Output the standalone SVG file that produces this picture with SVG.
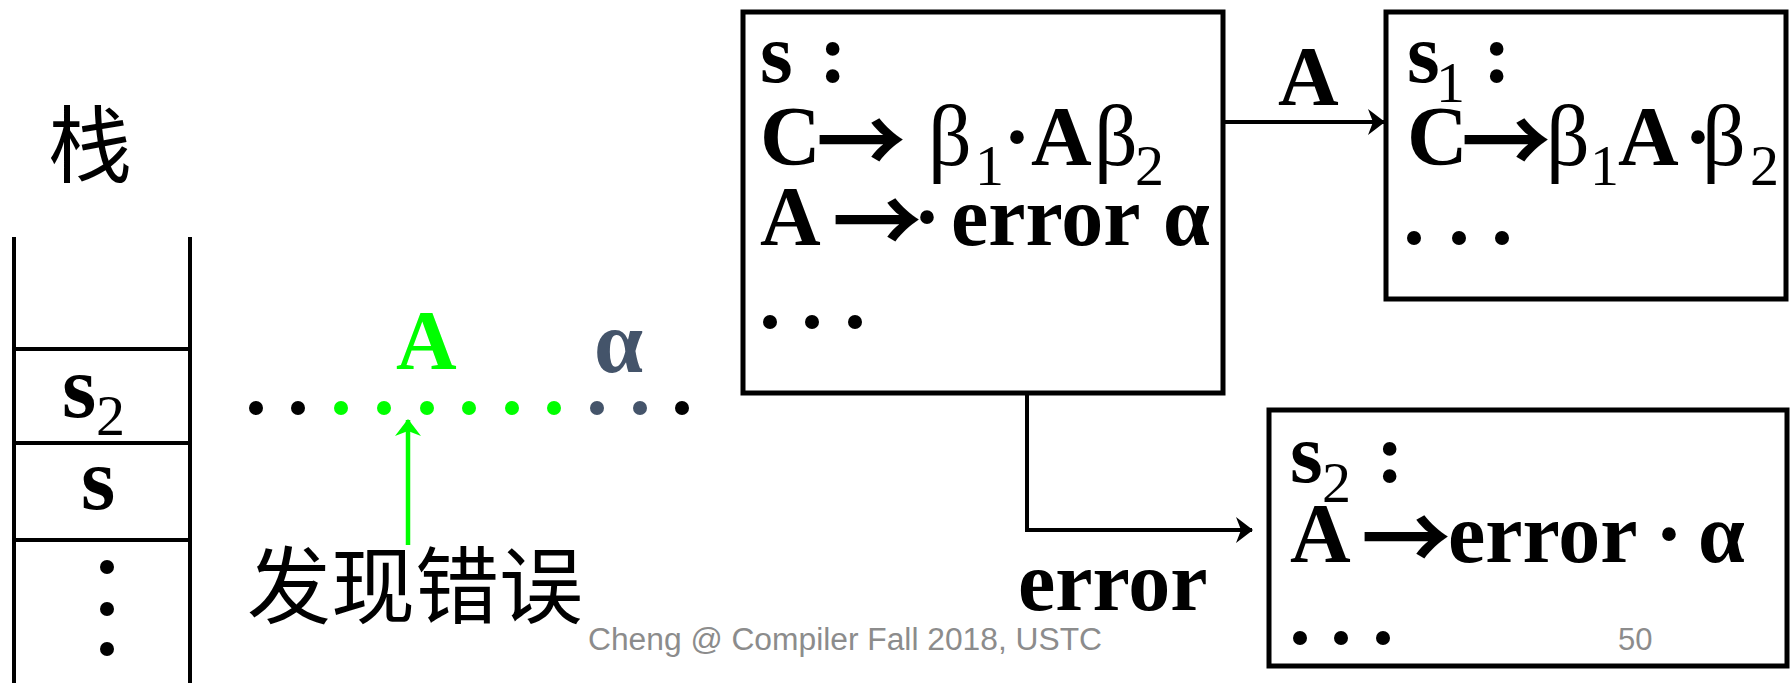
<svg xmlns="http://www.w3.org/2000/svg" width="1791" height="683" viewBox="0 0 1791 683">
<defs>
<style>
.t{font-family:"Liberation Serif","Times New Roman",serif;font-weight:bold;font-size:84px;fill:#000}
.g{font-family:"Liberation Serif","Times New Roman",serif;font-weight:normal;font-size:86px}
.sub{font-family:"Liberation Serif","Times New Roman",serif;font-weight:normal;font-size:58px}
.ar{font-family:"Noto Sans CJK SC","Noto Sans CJK JP",sans-serif;font-weight:bold;font-size:90px}
.cjk{font-family:"Noto Sans CJK SC","Noto Sans CJK JP",sans-serif;font-size:84px;fill:#000}
.box{fill:#fff;stroke:#000;stroke-width:5}
.ln{stroke:#000;stroke-width:4;fill:none}
.ft{font-family:"Liberation Sans",Arial,sans-serif;font-size:31px;fill:#8c8c8c}
</style>
<marker id="ah" markerUnits="userSpaceOnUse" markerWidth="17" markerHeight="26" refX="16" refY="13" orient="auto">
<path d="M0,0 L17,13 L0,26 L5,13 Z" fill="#000"/>
</marker>
<marker id="ahg" markerUnits="userSpaceOnUse" markerWidth="17" markerHeight="26" refX="16" refY="13" orient="auto">
<path d="M0,0 L17,13 L0,26 L5,13 Z" fill="#00ff00"/>
</marker>
</defs>
<rect width="1791" height="683" fill="#fff"/>

<g id="stack">
<text class="cjk" x="48" y="176">栈</text>
<path class="ln" d="M14,237 V683 M190,237 V683 M14,349 H190 M14,443 H190 M14,540 H190"/>
<text class="t" x="62" y="417" style="font-size:88px">s<tspan class="sub" x="96" y="435">2</tspan></text>
<text class="t" x="81" y="509" style="font-size:88px">s</text>
<circle cx="107" cy="567" r="7"/>
<circle cx="107" cy="609" r="7"/>
<circle cx="107" cy="649" r="7"/>
</g>

<g id="input">
<g fill="#000">
<circle cx="256" cy="408" r="7"/>
<circle cx="298" cy="408" r="7"/>
<circle cx="682" cy="408" r="7"/>
</g>
<g fill="#00ff00">
<circle cx="341" cy="408" r="7"/>
<circle cx="384" cy="408" r="7"/>
<circle cx="427" cy="408" r="7"/>
<circle cx="469" cy="408" r="7"/>
<circle cx="512" cy="408" r="7"/>
<circle cx="554" cy="408" r="7"/>
</g>
<g fill="#44546a">
<circle cx="597" cy="408" r="7"/>
<circle cx="640" cy="408" r="7"/>
</g>
<text class="t" x="396" y="369" style="fill:#00ff00">A</text>
<text class="t" x="594" y="372" style="fill:#44546a;font-size:88px">α</text>
<path d="M408,545 V420" stroke="#00ff00" stroke-width="4.5" fill="none" marker-end="url(#ahg)"/>
<text class="cjk" x="247" y="617">发现错误</text>
</g>

<g id="state-s">
<rect class="box" x="743" y="12" width="480" height="381"/>
<text class="t" x="760" y="82">s</text>
<text class="t" x="819" y="82">:</text>
<text class="t" y="165"><tspan x="760">C</tspan><tspan class="ar" x="816" y="174">→</tspan><tspan class="g" x="928" y="165">β</tspan><tspan class="sub" x="975" y="185">1</tspan><tspan x="1003" y="165">·</tspan><tspan x="1031">A</tspan><tspan class="g" x="1094">β</tspan><tspan class="sub" x="1135" y="185">2</tspan></text>
<text class="t" y="245"><tspan x="760">A</tspan><tspan class="ar" x="832" y="254">→</tspan><tspan x="913" y="245">·</tspan><tspan x="951">error</tspan><tspan x="1163">α</tspan></text>
<circle cx="770" cy="322" r="7"/>
<circle cx="812" cy="322" r="7"/>
<circle cx="855" cy="322" r="7"/>
</g>

<g id="state-s1">
<rect class="box" x="1386" y="12" width="400" height="287"/>
<text class="t" x="1407" y="82">s<tspan class="sub" x="1436" y="102">1</tspan></text>
<text class="t" x="1483" y="82">:</text>
<text class="t" y="165"><tspan x="1407">C</tspan><tspan class="ar" x="1461" y="174">→</tspan><tspan class="g" x="1546" y="165">β</tspan><tspan class="sub" x="1590" y="185">1</tspan><tspan x="1618" y="165">A</tspan><tspan x="1684">·</tspan><tspan class="g" x="1702">β</tspan><tspan class="sub" x="1750" y="185">2</tspan></text>
<circle cx="1414" cy="238" r="7"/>
<circle cx="1459" cy="238" r="7"/>
<circle cx="1502" cy="238" r="7"/>
</g>

<g id="state-s2">
<rect class="box" x="1269" y="410" width="518" height="256"/>
<text class="t" x="1290" y="482">s<tspan class="sub" x="1322" y="502">2</tspan></text>
<text class="t" x="1376" y="482">:</text>
<text class="t" y="562"><tspan x="1290">A</tspan><tspan class="ar" x="1361" y="571">→</tspan><tspan x="1448" y="562">error</tspan><tspan x="1655">·</tspan><tspan x="1698">α</tspan></text>
<circle cx="1300" cy="638" r="7"/>
<circle cx="1341" cy="638" r="7"/>
<circle cx="1383" cy="638" r="7"/>
</g>

<g id="connectors">
<path class="ln" d="M1224,122 H1384" marker-end="url(#ah)"/>
<text class="t" x="1278" y="105">A</text>
<path class="ln" d="M1027,394 V530 H1252" marker-end="url(#ah)"/>
<text class="t" x="1018" y="610">error</text>
</g>

<g id="footer">
<text class="ft" x="588" y="650" textLength="514" lengthAdjust="spacingAndGlyphs">Cheng @ Compiler Fall 2018, USTC</text>
<text class="ft" x="1618" y="650">50</text>
</g>
</svg>
